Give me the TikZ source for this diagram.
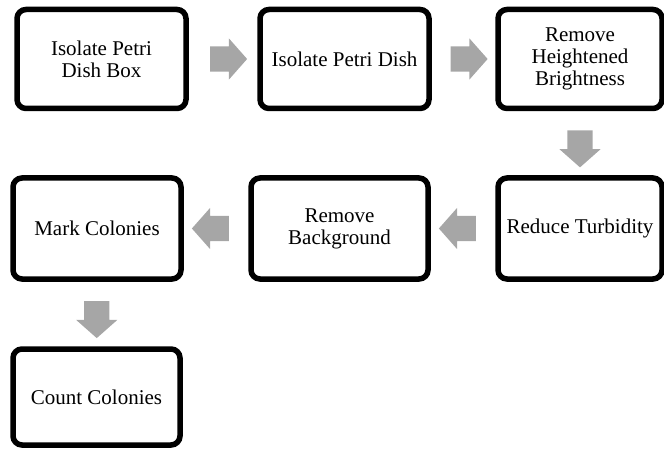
\documentclass[tikz,border=0pt]{standalone}
\usepackage{fontspec}
\setmainfont{Liberation Serif}
\usetikzlibrary{shapes.arrows,calc}
\definecolor{arrowgray}{RGB}{166,166,166}

\begin{document}
\begin{tikzpicture}[x=1pt,y=-1pt,
    stage/.style={draw=black, line width=5.5pt, rounded corners=9pt, fill=white,
      align=center, inner sep=4pt, font=\fontsize{21}{22}\selectfont},
    flow/.style={single arrow, fill=arrowgray, draw=none, inner xsep=0pt, inner ysep=12.5pt,
      minimum height=37pt, single arrow head extend=8pt, single arrow tip angle=97}]
        \useasboundingbox (0,0) rectangle (664,449);
        \node[stage, minimum width=169pt, minimum height=99pt] (isobox) at (101.5,59) {Isolate Petri\\Dish Box};
        \node[stage, minimum width=169pt, minimum height=99pt] (isodish) at (344.5,59) {Isolate Petri Dish};
        \node[stage, minimum width=164pt, minimum height=99pt] (bright) at (580,59) {Remove\\Heightened\\Brightness};
        \node[stage, minimum width=164pt, minimum height=101pt] (turbid) at (580,228.5) {Reduce Turbidity};
        \node[stage, minimum width=177pt, minimum height=101pt] (backgr) at (339.5,228.5) {Remove\\Background};
        \node[stage, minimum width=168pt, minimum height=101pt] (mark) at (97,228.5) {Mark Colonies};
        \node[stage, minimum width=167pt, minimum height=96pt] (count) at (96.5,397) {Count Colonies};
        \node[flow] (go1) at ($(isobox.east)!0.5!(isodish.west)$) {};
        \node[flow] (go2) at ($(isodish.east)!0.5!(bright.west)$) {};
        \node[flow, rotate=-90] (go3) at ($(bright.south)!0.5!(turbid.north)$) {};
        \node[flow, rotate=180] (go4) at ($(turbid.west)!0.5!(backgr.east)$) {};
        \node[flow, rotate=180] (go5) at ($(backgr.west)!0.5!(mark.east)$) {};
        \node[flow, rotate=-90] (go6) at ($(mark.south)!0.5!(count.north)$) {};
      \end{tikzpicture}
\end{document}
